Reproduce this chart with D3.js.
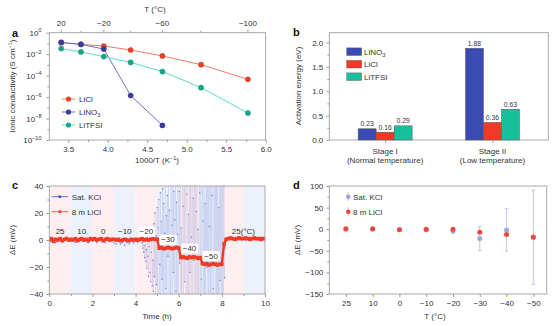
<!DOCTYPE html>
<html>
<head>
<meta charset="utf-8">
<script src="https://cdn.jsdelivr.net/npm/d3@7"></script>
<style>
body { margin: 0; background: #fff; }
text { font-family: "Liberation Sans", Arial, sans-serif; fill: #333; }
</style>
</head>
<body>
<svg id="fig" width="558" height="326"></svg>
<script>
// ---- panel a: ionic conductivity vs 1000/T
const invT = [3.411, 3.661, 3.950, 4.290, 4.692, 5.182, 5.775];
const condLiCl = [0.117, 0.081, 0.057, 0.0245, 0.0068, 0.00105, 4.5e-5];
const condLiNO3 = [0.126, 0.083, 0.030, 1.4e-6, 2.3e-9];
const condLiTFSI = [0.033, 0.016, 0.0059, 0.0017, 2.4e-4, 7.6e-6, 3.3e-8];
const topTemps = [20, 0, -20, -40, -60, -80, -100];
const topLabels = [20, -20, -60, -100];

// ---- panel b: activation energy
const stages = ['Stage I', 'Stage II'];
const stageSub = ['(Normal temperature)', '(Low temperature)'];
const salts = ['LiNO3', 'LiCl', 'LiTFSI'];
const eaLiNO3 = [0.23, 1.88];
const eaLiCl = [0.16, 0.36];
const eaLiTFSI = [0.29, 0.63];

// ---- panel c: potential drift vs time
const bandHours = [0, 1, 2, 3, 4, 5, 6, 7, 8, 9];
const stepLabels = [['25', 0.5, 6.5, false], ['10', 1.5, 6.5, false], ['0', 2.5, 6.5, false],
  ['−10', 3.5, 6.5, false], ['−20', 4.5, 6.5, true], ['−30', 5.5, 0.5, true],
  ['−40', 6.5, -6, true], ['−50', 7.5, -11.5, true], ['25(°C)', 9, 6.5, false]];
// 8 m LiCl, every 0.1 h from 0 to 10 h
const liclTrace = [
  0, 1, -1, 0.5, 0, 1, -0.5, 0.5, 1, 0,
  0.5, 0, 1, -0.5, 0.5, 1, 0, 0.5, -0.5, 1,
  0.5, 1, 0, 0.5, 1, -0.5, 0.5, 1, 0, 0.5,
  0.5, 0, 0.5, -0.5, 0, 0.5, 0, -0.5, 0.5, 0,
  0.5, 0, 0.5, 1, 0, 0.5, 0, 0.5, 1, 0.5,
  0.5, -6, -5.5, -6.5, -6, -5.5, -6, -6.5, -6, -5.5,
  -6, -13, -12.5, -13, -13.5, -12.5, -13, -12.5, -13, -13.5,
  -13, -17.5, -18, -17.5, -18.5, -18, -17.5, -18, -18.5, -18,
  -18, -3, 0.5, 1, 1.5, 1, 0.5, 1, 1.5, 1,
  1, 1.5, 1, 0.5, 1, 1.5, 1, 1, 0.5, 1, 1];
// Sat. KCl, calm part every 0.1 h from 0 to 4.3 h
const kclCalmA = [
  0, -1, 1, -2, 0, 1, -1, 0, 2, -1,
  -1, 0, -2, 1, -1, 0, -1, 1, -2, 0,
  -1, 0, -2, 1, 0, -1, -2, 0, 1, -1,
  -2, -3, -1, -3, -2, -4, -2, -3, -1, -2,
  -1, -2, 0];
// Sat. KCl, unstable part every 0.025 h from 4.3 to 8.15 h
const kclNoisy = [
  -2, -6, 0, -9, -4, -13, 1, -16, -7, -21, 2, -12, -27, -5, 4, -24, -31, -9, 6, -34,
  -15, -38, 12, -27, 20, -40, 3, -33, 24, -47, 9, 30, -43, -18, 35, -52, 14, -29, 38, -45,
  27, -54, 5, 43, -36, 18, -58, 33, -12, 49, -47, 22, -6, -55, 41, 11, -43, 52, -24, 36,
  -60, 15, 55, -38, 28, -62, 4, 47, -50, 36, -17, 61, -44, 9, -57, 42, 25, -65, 50, -31,
  63, -8, -52, 34, 58, -67, 19, -40, 66, -24, 45, -61, 2, 55, -70, 31, -15, 68, -48, 40,
  -63, 21, 70, -55, 8, -72, 49, 35, -66, 60, -29, -74, 52, 14, -58, 73, -42, 27, -69, 62,
  -20, 75, -64, 44, -77, 10, 68, -51, 57, -79, 33, 71, -36, -68, 80, -12, 59, -76, 46, -60,
  78, -45, 24, -80, 65, -30, 72, -74, 53, -62, 76, -55, 40, -28, -6];
// Sat. KCl, calm part every 0.1 h from 8.2 to 10 h
const kclCalmB = [0, 1, 2, 1, 0, 1, 2, 1, 1, 0, 1, 2, 1, 0, 1, 1, 2, 1, 1];

// ---- panel d: mean drift with error bars
const tempCats = ['25', '10', '0', '−10', '−20', '−30', '−40', '−50'];
const kclMean = [0, 0, -1, -2, -4, -21.7, -1.6, -19];
const kclErr = [1, 1, 1, 2, 5, 27.7, 49, 109];
const liclMean = [1, 1, -1, 0, 0, -7, -12.5, -17.8];
const liclErr = [1, 1, 1, 2, 2, 2, 2, 2];

const svg = d3.select('#fig');
const frameColor = '#a0a0a0';

function styleAxis(g, size) {
  g.select('.domain').remove();
  g.selectAll('line').attr('stroke', '#888').attr('stroke-width', 0.8);
  g.selectAll('text').attr('font-size', size || 8).attr('fill', '#333');
}
function frame(x0, y0, x1, y1) {
  svg.append('rect').attr('x', x0).attr('y', y0).attr('width', x1 - x0).attr('height', y1 - y0)
    .attr('fill', 'none').attr('stroke', frameColor).attr('stroke-width', 0.9);
}
function letter(t, x, y) {
  svg.append('text').attr('x', x).attr('y', y).attr('font-size', 11).attr('font-weight', 'bold')
    .style('fill', '#111').text(t);
}
function ylabel(t, x, y) {
  return svg.append('text').attr('transform', `translate(${x},${y}) rotate(-90)`)
    .attr('text-anchor', 'middle').attr('font-size', 8).text(t);
}
// text with a "−1" superscript and closing paren
function withInvUnit(t, pre) {
  t.append('tspan').text(pre);
  t.append('tspan').attr('font-size', 5.5).attr('dy', -3.5).text('−1');
  t.append('tspan').attr('dy', 3.5).text(')');
}
function saltLabel(sel, name) {
  if (name === 'LiNO3') {
    sel.append('tspan').text('LiNO');
    sel.append('tspan').attr('font-size', 5.5).attr('dy', 2).text('3');
  } else sel.text(name);
}

// ================= panel a =================
{
  const L = 49.3, R = 265.7, T = 32.7, B = 140;
  const x = d3.scaleLinear().domain([3.26, 6.0]).range([L, R]);
  const y = d3.scaleLog().domain([1e-10, 1]).range([B, T]);
  const col = {
    LiCl: { line: '#f27a68', dot: '#e8402a' },
    LiNO3: { line: '#6a70d0', dot: '#3a3d9e' },
    LiTFSI: { line: '#5cdccb', dot: '#17a58a' }
  };

  const gx = svg.append('g').attr('transform', `translate(0,${B})`)
    .call(d3.axisBottom(x).tickValues([3.5, 4.0, 4.5, 5.0, 5.5, 6.0]).tickFormat(d3.format('.1f')).tickSize(3).tickPadding(3));
  styleAxis(gx);
  const gxm = svg.append('g').attr('transform', `translate(0,${B})`)
    .call(d3.axisBottom(x).tickValues([3.75, 4.25, 4.75, 5.25, 5.75]).tickFormat('').tickSize(2));
  styleAxis(gxm);

  const yt = d3.range(0, -11, -2);
  const gy = svg.append('g').attr('transform', `translate(${L},0)`)
    .call(d3.axisLeft(y).tickValues(yt.map(e => Math.pow(10, e))).tickFormat('').tickSize(3));
  styleAxis(gy);
  const gym = svg.append('g').attr('transform', `translate(${L},0)`)
    .call(d3.axisLeft(y).tickValues(d3.range(-1, -10, -2).map(e => Math.pow(10, e))).tickFormat('').tickSize(2));
  styleAxis(gym);
  yt.forEach(e => {
    const t = svg.append('text').attr('x', 41.5).attr('y', y(Math.pow(10, e)) + 3)
      .attr('text-anchor', 'end').attr('font-size', 8);
    t.append('tspan').text('10');
    t.append('tspan').attr('font-size', 5.5).attr('dy', -3.5).text(e === 0 ? '0' : '−' + (-e));
  });

  // top temperature axis
  const tx = t => x(1000 / (273.15 + t));
  svg.append('g').selectAll('line').data(topTemps).join('line')
    .attr('x1', tx).attr('x2', tx).attr('y1', T).attr('y2', d => topLabels.includes(d) ? T - 3 : T - 2)
    .attr('stroke', '#888').attr('stroke-width', 0.8);
  svg.append('g').selectAll('text').data(topLabels).join('text')
    .attr('x', tx).attr('y', 26).attr('text-anchor', 'middle').attr('font-size', 8)
    .text(d => d < 0 ? '−' + (-d) : d);
  svg.append('text').attr('x', 155).attr('y', 12).attr('text-anchor', 'middle').attr('font-size', 8).text('T (°C)');

  frame(L, T, R, B);

  const line = d3.line().x(d => x(d[0])).y(d => y(d[1]));
  const series = [['LiCl', condLiCl], ['LiNO3', condLiNO3], ['LiTFSI', condLiTFSI]];
  series.forEach(([name, vals]) => {
    const pts = vals.map((v, i) => [invT[i], v]);
    svg.append('path').attr('d', line(pts)).attr('fill', 'none')
      .attr('stroke', col[name].line).attr('stroke-width', 1);
    svg.append('g').selectAll('circle').data(pts).join('circle')
      .attr('cx', d => x(d[0])).attr('cy', d => y(d[1])).attr('r', 2.6)
      .attr('fill', col[name].dot).attr('stroke', d3.color(col[name].dot).darker(0.6)).attr('stroke-width', 0.4);
  });

  // legend
  series.forEach(([name], i) => {
    const ly = 99 + i * 13;
    svg.append('line').attr('x1', 62).attr('x2', 75).attr('y1', ly).attr('y2', ly)
      .attr('stroke', col[name].line).attr('stroke-width', 1);
    svg.append('circle').attr('cx', 68.5).attr('cy', ly).attr('r', 2.6).attr('fill', col[name].dot);
    const t = svg.append('text').attr('x', 79).attr('y', ly + 3).attr('font-size', 8);
    saltLabel(t, name);
  });

  withInvUnit(svg.append('text').attr('x', 157).attr('y', 163).attr('text-anchor', 'middle').attr('font-size', 8), '1000/T (K');
  withInvUnit(svg.append('text').attr('transform', 'translate(15,86) rotate(-90)')
    .attr('text-anchor', 'middle').attr('font-size', 8), 'Ionic conductivity (S cm');
  letter('a', 12, 37);
}

// ================= panel b =================
{
  const L = 329.3, R = 548.3, T = 32.7, B = 140;
  const x0 = d3.scalePoint().domain(stages).range([L, R]).padding(0.52);
  const x1 = d3.scaleBand().domain(salts).range([-27, 27]);
  const y = d3.scaleLinear().domain([0, 2.2]).range([B, T]);
  const color = { LiNO3: '#3b4bb3', LiCl: '#ef3b26', LiTFSI: '#17bf9c' };
  const vals = { LiNO3: eaLiNO3, LiCl: eaLiCl, LiTFSI: eaLiTFSI };

  const gy = svg.append('g').attr('transform', `translate(${L},0)`)
    .call(d3.axisLeft(y).tickValues([0, 0.5, 1.0, 1.5, 2.0]).tickFormat(d3.format('.1f')).tickSize(3).tickPadding(3));
  styleAxis(gy);
  const gym = svg.append('g').attr('transform', `translate(${L},0)`)
    .call(d3.axisLeft(y).tickValues([0.25, 0.75, 1.25, 1.75]).tickFormat('').tickSize(2));
  styleAxis(gym);
  const gx = svg.append('g').attr('transform', `translate(0,${B})`)
    .call(d3.axisBottom(x0).tickFormat('').tickSize(3));
  styleAxis(gx);

  frame(L, T, R, B);

  stages.forEach((s, si) => {
    salts.forEach(k => {
      const v = vals[k][si];
      const bx = x0(s) + x1(k);
      svg.append('rect').attr('x', bx).attr('y', y(v)).attr('width', x1.bandwidth())
        .attr('height', B - y(v)).attr('fill', color[k]).attr('stroke', '#555').attr('stroke-width', 0.5);
      svg.append('text').attr('x', bx + x1.bandwidth() / 2).attr('y', y(v) - 2.5)
        .attr('text-anchor', 'middle').attr('font-size', 6.8).text(v.toFixed(2));
    });
    svg.append('text').attr('x', x0(s)).attr('y', 154).attr('text-anchor', 'middle').attr('font-size', 8).text(s);
    svg.append('text').attr('x', x0(s)).attr('y', 163).attr('text-anchor', 'middle').attr('font-size', 8).text(stageSub[si]);
  });

  salts.forEach((k, i) => {
    const ly = 51.7 + i * 12.5;
    svg.append('rect').attr('x', 346.7).attr('y', ly - 3.8).attr('width', 15).attr('height', 7.6)
      .attr('fill', color[k]).attr('stroke', '#555').attr('stroke-width', 0.4);
    const t = svg.append('text').attr('x', 364).attr('y', ly + 3).attr('font-size', 8);
    saltLabel(t, k);
  });

  ylabel('Activation energy (eV)', 301, 86);
  letter('b', 293, 36);
}

// ================= panel c =================
{
  const L = 49.3, R = 265, T = 186, B = 294;
  const x = d3.scaleLinear().domain([0, 10]).range([L, R]);
  const y = d3.scaleLinear().domain([-40, 40]).range([B, T]);

  svg.append('g').selectAll('rect').data(bandHours).join('rect')
    .attr('x', d => x(d)).attr('y', T).attr('width', x(1) - x(0)).attr('height', B - T)
    .attr('fill', d => d % 2 === 0 ? '#fdeff0' : '#ecf1fb');

  const gx = svg.append('g').attr('transform', `translate(0,${B})`)
    .call(d3.axisBottom(x).tickValues([0, 2, 4, 6, 8, 10]).tickSize(3).tickPadding(3));
  styleAxis(gx);
  const gxm = svg.append('g').attr('transform', `translate(0,${B})`)
    .call(d3.axisBottom(x).tickValues([1, 3, 5, 7, 9]).tickFormat('').tickSize(2));
  styleAxis(gxm);
  const gy = svg.append('g').attr('transform', `translate(${L},0)`)
    .call(d3.axisLeft(y).tickValues([-40, -20, 0, 20, 40]).tickFormat(d => d < 0 ? '−' + (-d) : d).tickSize(3).tickPadding(3));
  styleAxis(gy);
  const gym = svg.append('g').attr('transform', `translate(${L},0)`)
    .call(d3.axisLeft(y).tickValues([-30, -10, 10, 30]).tickFormat('').tickSize(2));
  styleAxis(gym);

  svg.append('clipPath').attr('id', 'clipc').append('rect')
    .attr('x', L).attr('y', T).attr('width', R - L).attr('height', B - T);
  const plot = svg.append('g').attr('clip-path', 'url(#clipc)');

  const kcl = kclCalmA.map((v, i) => [i * 0.1, v])
    .concat(kclNoisy.map((v, i) => [4.3 + i * 0.025, v]))
    .concat(kclCalmB.map((v, i) => [8.2 + i * 0.1, v]));
  const licl = liclTrace.map((v, i) => [i * 0.1, v]);
  const line = d3.line().x(d => x(d[0])).y(d => y(d[1]));

  plot.append('path').attr('d', line(kcl)).attr('fill', 'none')
    .attr('stroke', '#7480d6').attr('stroke-opacity', 0.33).attr('stroke-width', 0.45);
  plot.append('g').selectAll('circle').data(kcl).join('circle')
    .attr('cx', d => x(d[0])).attr('cy', d => y(d[1]))
    .attr('r', 0.7).attr('fill', '#3440b0').attr('opacity', 0.65);

  plot.append('path').attr('d', line(licl)).attr('fill', 'none')
    .attr('stroke', '#f03a24').attr('stroke-width', 2.4);
  plot.append('g').selectAll('rect').data(licl).join('rect')
    .attr('x', d => x(d[0]) - 1.8).attr('y', d => y(d[1]) - 1.8).attr('width', 3.6).attr('height', 3.6)
    .attr('fill', '#f03a24');

  frame(L, T, R, B);

  stepLabels.forEach(([t, h, v, boxed]) => {
    const tx = svg.append('text').attr('x', x(h)).attr('y', y(v) + 3).attr('text-anchor', 'middle')
      .attr('font-size', 8).text(t);
    if (boxed) {
      const bb = tx.node().getBBox();
      svg.insert('rect', () => tx.node()).attr('x', bb.x - 1.5).attr('y', bb.y - 0.5)
        .attr('width', bb.width + 3).attr('height', bb.height + 1).attr('fill', '#fff');
    }
  });

  // legend
  [['Sat. KCl', '#4a56c4', 196.7], ['8 m LiCl', '#f03a24', 211.7]].forEach(([t, c, ly]) => {
    svg.append('line').attr('x1', 51.7).attr('x2', 68.3).attr('y1', ly).attr('y2', ly)
      .attr('stroke', c).attr('stroke-width', 0.8);
    svg.append('rect').attr('x', 58.5).attr('y', ly - 1.3).attr('width', 2.6).attr('height', 2.6).attr('fill', c);
    svg.append('text').attr('x', 71.7).attr('y', ly + 3).attr('font-size', 8).text(t);
  });

  svg.append('text').attr('x', 157).attr('y', 318.5).attr('text-anchor', 'middle').attr('font-size', 8).text('Time (h)');
  ylabel('ΔE (mV)', 15, 240);
  letter('c', 12, 189);
}

// ================= panel d =================
{
  const L = 329.3, R = 546.7, T = 186, B = 294;
  const x = d3.scaleLinear().domain([-0.62, 7.5]).range([L, R]);
  const y = d3.scaleLinear().domain([-150, 100]).range([B, T]);

  const gx = svg.append('g').attr('transform', `translate(0,${B})`)
    .call(d3.axisBottom(x).tickValues(d3.range(tempCats.length)).tickFormat(i => tempCats[i]).tickSize(3).tickPadding(3));
  styleAxis(gx);
  const gy = svg.append('g').attr('transform', `translate(${L},0)`)
    .call(d3.axisLeft(y).tickValues([-150, -100, -50, 0, 50, 100]).tickFormat(d => d < 0 ? '−' + (-d) : d).tickSize(3).tickPadding(3));
  styleAxis(gy);
  const gym = svg.append('g').attr('transform', `translate(${L},0)`)
    .call(d3.axisLeft(y).tickValues([-125, -75, -25, 25, 75]).tickFormat('').tickSize(2));
  styleAxis(gym);

  frame(L, T, R, B);

  function errSeries(mean, err, barCol, dotCol) {
    const g = svg.append('g');
    mean.forEach((m, i) => {
      const cx = x(i);
      g.append('line').attr('x1', cx).attr('x2', cx).attr('y1', y(m + err[i])).attr('y2', y(m - err[i]))
        .attr('stroke', barCol).attr('stroke-width', 0.8);
      [m + err[i], m - err[i]].forEach(e => g.append('line').attr('x1', cx - 1.8).attr('x2', cx + 1.8)
        .attr('y1', y(e)).attr('y2', y(e)).attr('stroke', barCol).attr('stroke-width', 0.8));
      g.append('circle').attr('cx', cx).attr('cy', y(m)).attr('r', 2.5).attr('fill', dotCol);
    });
  }
  errSeries(kclMean, kclErr, '#b4b9e6', '#9ea6dc');
  errSeries(liclMean, liclErr, '#f6a59c', '#f0463a');

  [['Sat. KCl', '#b4b9e6', '#9ea6dc', 196.7], ['8 m LiCl', '#f6a59c', '#f0463a', 211.7]].forEach(([t, bc, dc, ly]) => {
    svg.append('line').attr('x1', 348.3).attr('x2', 348.3).attr('y1', ly - 4.5).attr('y2', ly + 4.5)
      .attr('stroke', bc).attr('stroke-width', 0.8);
    svg.append('circle').attr('cx', 348.3).attr('cy', ly).attr('r', 2.3).attr('fill', dc);
    svg.append('text').attr('x', 353).attr('y', ly + 3).attr('font-size', 8).text(t);
  });

  svg.append('text').attr('x', 435).attr('y', 318.5).attr('text-anchor', 'middle').attr('font-size', 8).text('T (°C)');
  ylabel('ΔE (mV)', 300, 240);
  letter('d', 293, 189);
}
</script>
</body>
</html>
